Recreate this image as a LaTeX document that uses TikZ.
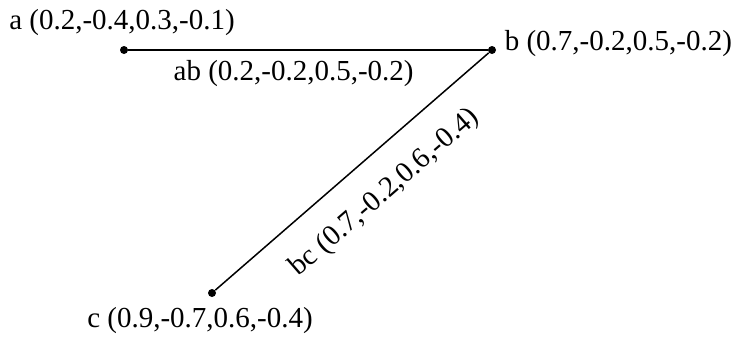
\documentclass[tikz,border=0pt]{standalone}
\usepackage{fontspec}
\setmainfont{Liberation Serif}
\usetikzlibrary{positioning}
\tikzset{
  dot/.style={circle, fill=black, inner sep=0pt, minimum size=4pt},
  lbl/.style={font=\fontsize{14.5}{16}\selectfont, inner sep=1pt},
  seg/.style={line width=0.75pt}
}

\begin{document}
\begin{tikzpicture}[x=0.5pt,y=-0.5pt]
\useasboundingbox (0,0) rectangle (732,337);
% the three points
\node[dot] (a) at (124,50) {};
\node[dot] (b) at (492,50) {};
\node[dot] (c) at (212,293) {};
\node[lbl, above=4pt of a, xshift=-1pt] (la) {a (0.2,-0.4,0.3,-0.1)};
\node[lbl, right=3pt of b, yshift=3pt] (lb) {b (0.7,-0.2,0.5,-0.2)};
\node[lbl, below=4pt of c, xshift=-6pt] (lc) {c (0.9,-0.7,0.6,-0.4)};
% the two segments
\draw[seg] (a) -- node[lbl, below=4pt, pos=0.46] (lab) {ab (0.2,-0.2,0.5,-0.2)} (b);
\draw[seg] (c) -- node[lbl, sloped, below=11pt, pos=0.53] (lbc) {bc (0.7,-0.2,0.6,-0.4)} (b);
\end{tikzpicture}
\end{document}
